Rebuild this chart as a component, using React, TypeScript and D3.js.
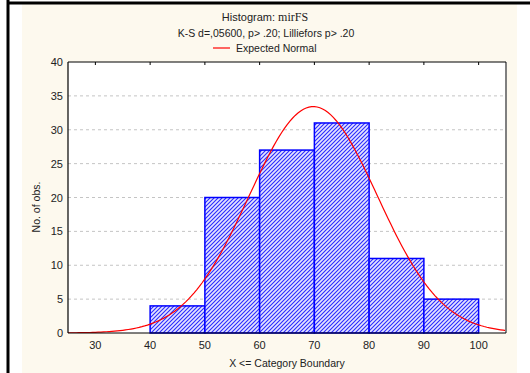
import React from "react";
import * as d3 from "d3";

const binStarts = [40, 50, 60, 70, 80, 90];
const binWidth = 10;
const counts = [4, 20, 27, 31, 11, 5];
const xTicks = [30, 40, 50, 60, 70, 80, 90, 100];
const yTicks = [0, 5, 10, 15, 20, 25, 30, 35, 40];
const normalMean = 69.8;
const normalSd = 11.7;

const W = 530;
const H = 373;
const M = { left: 68, right: 506, top: 62, bottom: 333 };

export default function App() {
  const x = d3.scaleLinear().domain([25, 105]).range([M.left, M.right]);
  const y = d3.scaleLinear().domain([0, 40]).range([M.bottom, M.top]);
  const total = d3.sum(counts);
  const dens = (v: number) =>
    (total * binWidth) / (normalSd * Math.sqrt(2 * Math.PI)) *
    Math.exp(-0.5 * ((v - normalMean) / normalSd) ** 2);
  const pts = d3.range(25, 105.01, 0.5).map((v) => [v, dens(v)] as [number, number]);
  const line = d3.line<[number, number]>().x((d) => x(d[0])).y((d) => y(d[1])).curve(d3.curveLinear);
  const sans = "'Liberation Sans', Arial, sans-serif";
  const serif = "'Liberation Serif', 'Times New Roman', serif";
  return (
    <svg width={W} height={H} style={{ position: "absolute", left: 0, top: 0, background: "#fff" }}>
      <defs>
        <pattern id="hatch" width="4" height="4" patternUnits="userSpaceOnUse">
          <rect width="4" height="4" fill="#e4e4ff" />
          <path d="M-1,1 L1,-1 M0,4 L4,0 M3,5 L5,3" stroke="#2a2aff" strokeWidth="1.1" />
        </pattern>
        <clipPath id="plotClip">
          <rect x={M.left} y={M.top} width={M.right - M.left} height={M.bottom - M.top} />
        </clipPath>
      </defs>
      <rect x={22} y={4} width={495} height={H - 4} fill="#fdf9ee" />
      <line x1={7} x2={W} y1={3} y2={3} stroke="#000" strokeWidth={3} />
      <line x1={8} x2={8} y1={0} y2={H} stroke="#000" strokeWidth={3} />
      <text x={265} y={21} textAnchor="middle" fontFamily={sans} fontSize={11} fill="#222">
        Histogram: <tspan fontFamily={serif} fontSize={12}>mirFS</tspan>
      </text>
      <text x={266} y={37} textAnchor="middle" fontFamily={sans} fontSize={10.5} fill="#222">
        K-S d=,05600, p&gt; .20; Lilliefors p&gt; .20
      </text>
      <line x1={213} x2={230} y1={48} y2={48} stroke="#ff0000" strokeWidth={1.2} />
      <text x={236} y={52} fontFamily={sans} fontSize={10.5} fill="#222">Expected Normal</text>
      <rect x={M.left} y={M.top} width={M.right - M.left} height={M.bottom - M.top} fill="#fff" />
      {yTicks.filter((t) => t > 0 && t < 40).map((t) => (
        <line key={t} x1={M.left} x2={M.right} y1={y(t)} y2={y(t)} stroke="#c4c4c4" strokeDasharray="3 3" />
      ))}
      {counts.map((c, i) => (
        <rect
          key={i}
          x={x(binStarts[i])}
          y={y(c)}
          width={x(binStarts[i] + binWidth) - x(binStarts[i])}
          height={y(0) - y(c)}
          fill="url(#hatch)"
          stroke="#0000ff"
          strokeWidth={1.5}
        />
      ))}
      <path d={line(pts) || ""} fill="none" stroke="#ff0000" strokeWidth={1.2} clipPath="url(#plotClip)" />
      {xTicks.map((t) => (
        <line key={t} x1={x(t)} x2={x(t)} y1={M.top} y2={M.top + 3} stroke="#000" />
      ))}
      <line x1={M.right} x2={M.right} y1={M.top} y2={M.bottom} stroke="#808080" strokeWidth={2} />
      <line x1={M.left} x2={M.right} y1={M.top} y2={M.top} stroke="#000" />
      <line x1={M.left} x2={M.right} y1={M.bottom} y2={M.bottom} stroke="#000" strokeWidth={1.2} />
      <line x1={M.left} x2={M.left} y1={M.top} y2={M.bottom} stroke="#000" strokeWidth={1.2} />
      {yTicks.map((t) => (
        <text key={t} x={63} y={y(t) + 4} textAnchor="end" fontFamily={sans} fontSize={11} fill="#222">
          {t}
        </text>
      ))}
      {xTicks.map((t) => (
        <text key={t} x={x(t)} y={349} textAnchor="middle" fontFamily={sans} fontSize={11} fill="#222">
          {t}
        </text>
      ))}
      <text x={287} y={367} textAnchor="middle" fontFamily={sans} fontSize={10.5} fill="#222">
        X &lt;= Category Boundary
      </text>
      <text
        transform={`translate(40, 207) rotate(-90)`}
        textAnchor="middle"
        fontFamily={sans}
        fontSize={10.5}
        fill="#222"
      >
        No. of obs.
      </text>
    </svg>
  );
}
